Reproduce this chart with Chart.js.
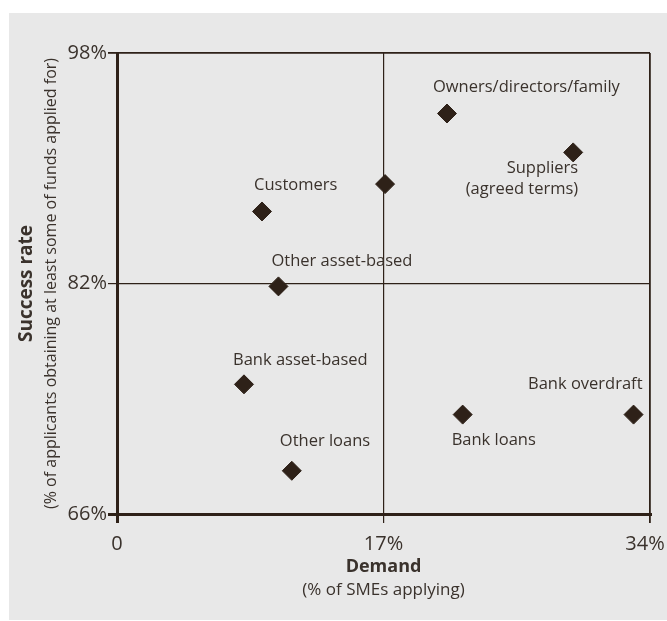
<!DOCTYPE html>
<html>
<head>
<meta charset="utf-8">
<title>SME finance sources: demand vs success rate</title>
<script src="https://cdn.jsdelivr.net/npm/chart.js@4/dist/chart.umd.min.js"></script>
<style>
  html, body { margin: 0; padding: 0; background: #fff; }
  #wrap { position: relative; width: 667px; height: 621px; }
</style>
</head>
<body>
<div id="wrap"><canvas id="chart" width="667" height="621"></canvas></div>
<script>
// ── Data ───────────────────────────────────────────────────────────
const sources = [
  'Owners/directors/family', 'Suppliers\n(agreed terms)', '', 'Customers',
  'Other asset-based', 'Bank asset-based', 'Other loans', 'Bank loans', 'Bank overdraft',
];
const demand  = [21.05, 29.1, 17.1, 9.25, 10.3, 8.1, 11.15, 22.05, 32.95]; // % of SMEs applying
const success = [93.8, 91.1, 88.9, 87.0, 81.8, 75.0, 69.0, 72.9, 72.9];     // % obtaining funds
const demandTicks  = [0, 17, 34];
const successTicks = [66, 82, 98];

// label placement relative to each diamond: [dx, dy, align]
const labelPlace = [
  [-14, -26, 'left'], [5, 16, 'right'], [0, 0, 'left'], [-8, -26, 'left'],
  [-7, -25, 'left'], [-11, -24, 'left'], [-12, -29, 'left'], [-11, 26, 'left'], [9, -30, 'right'],
];

const INK = '#2e2118';
const TEXT = '#3a322c';
const FONT = "'Open Sans', 'DejaVu Sans', sans-serif";

const panel = {
  id: 'panel',
  beforeDraw(chart) {
    const { ctx } = chart;
    ctx.save();
    ctx.fillStyle = '#e8e8e8';
    ctx.fillRect(9, 13, 658, 607);
    ctx.restore();
  },
  afterDatasetsDraw(chart) {
    const { ctx } = chart;
    const pts = chart.getDatasetMeta(0).data;
    ctx.save();
    ctx.fillStyle = TEXT;
    ctx.font = `16.5px ${FONT}`;
    ctx.textBaseline = 'middle';
    pts.forEach((p, i) => {
      if (!sources[i]) return;
      const [dx, dy, align] = labelPlace[i];
      ctx.textAlign = align;
      sources[i].split('\n').forEach((line, k) => ctx.fillText(line, p.x + dx, p.y + dy + k * 21));
    });
    ctx.restore();
  },
  afterDraw(chart) {
    const { ctx, chartArea: a } = chart;
    const cx = (a.left + a.right) / 2, cy = (a.top + a.bottom) / 2;
    ctx.save();
    ctx.fillStyle = TEXT;
    ctx.textAlign = 'center';
    ctx.textBaseline = 'middle';
    ctx.font = `bold 18px ${FONT}`;
    ctx.fillText('Demand', cx, 567);
    ctx.font = `17px ${FONT}`;
    ctx.fillText('(% of SMEs applying)', cx, 590);
    ctx.translate(27, cy);
    ctx.rotate(-Math.PI / 2);
    ctx.font = `bold 19px ${FONT}`;
    ctx.fillText('Success rate', 0, 0);
    ctx.font = `16px ${FONT}`;
    ctx.fillText('(% of applicants obtaining at least some of funds applied for)', 0, 24);
    ctx.restore();
  },
};

function edgeWidth(v, lo, hi) {
  if (v === lo) return 3;
  if (v === hi) return 1.8;
  return 1.2;
}

new Chart(document.getElementById('chart'), {
  type: 'scatter',
  data: {
    datasets: [{
      data: demand.map((d, i) => ({ x: d, y: success[i] })),
      pointStyle: 'rectRot',
      pointRadius: 9.5,
      pointHoverRadius: 9.5,
      backgroundColor: INK,
      borderColor: INK,
      borderWidth: 1,
    }],
  },
  options: {
    responsive: false,
    animation: false,
    events: [],
    layout: { padding: { top: 53, right: 17, left: 0, bottom: 0 } },
    plugins: { legend: { display: false }, tooltip: { enabled: false } },
    scales: {
      x: {
        type: 'linear', min: 0, max: 34,
        afterBuildTicks: s => { s.ticks = demandTicks.map(v => ({ value: v })); },
        afterFit: s => { s.height = 107; s.paddingLeft = 0; s.paddingRight = 0; },
        grid: {
          color: INK, drawOnChartArea: true, drawTicks: true, tickLength: 9,
          lineWidth: c => edgeWidth(c.tick && c.tick.value, 0, 34),
        },
        border: { display: true, color: INK, width: 3 },
        ticks: {
          color: TEXT, padding: 9, maxRotation: 0,
          font: { family: FONT, size: 20 },
          callback: (v, i) => (v === 0 ? '0' : v + '%') + (i === demandTicks.length - 1 ? '\u2002' : ''),
        },
      },
      y: {
        type: 'linear', min: 66, max: 98,
        afterBuildTicks: s => { s.ticks = successTicks.map(v => ({ value: v })); },
        afterFit: s => { s.width = 117; s.paddingTop = 0; s.paddingBottom = 0; },
        grid: {
          color: INK, drawOnChartArea: true, drawTicks: true, tickLength: 9,
          lineWidth: c => edgeWidth(c.tick && c.tick.value, 66, 98),
        },
        border: { display: true, color: INK, width: 3 },
        ticks: {
          color: TEXT, padding: 1,
          font: { family: FONT, size: 20 },
          callback: v => v + '%',
        },
      },
    },
  },
  plugins: [panel],
});
</script>
</body>
</html>
